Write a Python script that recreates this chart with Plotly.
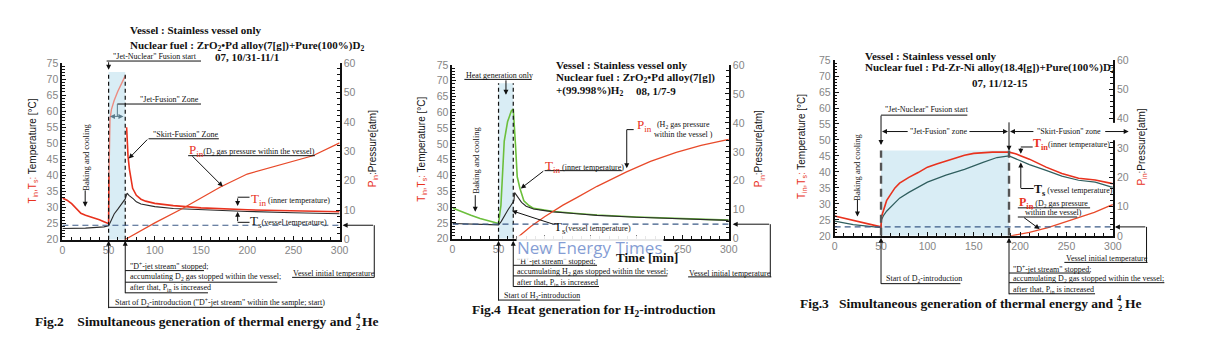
import plotly.graph_objects as go

# ---------------- measured series ----------------
# Fig.2  ZrO2·Pd alloy (7 g) + pure D2   (07, 10/31-11/1)
fig2_tin_time = [0, 5, 10, 14, 17, 20, 25, 32, 40, 45, 50, 50.4, None,
                 69.5, 70, 71, 72.5, 74, 76, 80, 85, 90, 100, 120, 150, 200, 250, 300]
fig2_tin = [33.0, 32.3, 31.2, 30.0, 28.8, 28.2, 27.6, 27.0, 26.2, 25.6, 25.0, 40.0, None,
            55.0, 50.0, 46.0, 42.0, 39.0, 36.0, 33.8, 32.6, 32.0, 31.3, 30.6, 29.9, 29.3, 29.0, 28.7]
fig2_jet_time = [50.4, 50.8, 51.5, 53, 56, 60, 64, 68]
fig2_jet_tin = [40.0, 50.0, 57.5, 60.5, 63.3, 66.2, 68.8, 71.0]
fig2_ts_time = [0, 25, 45, 50, 52, 56, 60, 64, 68, 70, 72, 76.8, 80, 85, 90, 100, 120, 150, 200, 250, 300]
fig2_ts = [23.5, 23.6, 24.0, 24.3, 25.5, 28.0, 29.5, 31.0, 32.7, 34.5, 33.8, 32.7, 31.8, 31.1,
           30.8, 30.3, 29.7, 29.3, 28.8, 28.4, 28.1]
fig2_pin_time = [67.5, 80, 100, 130, 171, 200, 240, 271, 300]
fig2_pin = [0, 2.2, 5.7, 10.6, 17.9, 22.3, 25.8, 28.5, 32.9]
fig2_zone = [50, 68]
fig2_zone_top = 72.2
fig2_initial_temp = 24.5

# Fig.4  ZrO2·Pd alloy (7 g) + 99.998 % H2   (08, 1/7-9)
fig4_tin_time = [0, 10, 20, 30, 40, 50, 52.6, 54.4, 56.2, 59.8, 64, 66, 67.5, 68.5, 70.3, 73.2,
                 77.5, 83, 88, 100, 110, 135, 157, 200, 250, 300]
fig4_tin = [29.7, 28.5, 27.4, 26.4, 25.5, 24.8, 30.5, 42.7, 50.9, 57.0, 60.5, 61.0, 54.9, 49.3,
            39.6, 36.0, 32.0, 30.5, 29.6, 29.0, 28.6, 28.0, 27.5, 26.9, 26.3, 25.9]
fig4_ts_time = [0, 25, 50, 53, 56, 60, 63.4, 66.7, 67.5, 70, 75, 80, 88, 100, 110, 135, 157, 200, 250, 300]
fig4_ts = [24.8, 24.6, 24.4, 25.5, 27.2, 29.0, 30.5, 32.0, 34.6, 33.5, 31.5, 30.3, 29.4, 28.9,
           28.5, 27.9, 27.4, 26.8, 26.2, 25.8]
fig4_pin_time = [69, 85, 100, 120, 135, 157, 189, 215, 243, 270, 300]
fig4_pin = [0, 4.2, 7.6, 11.6, 14.2, 18.1, 23.1, 26.7, 29.8, 32.2, 34.3]
fig4_zone = [50, 66]
fig4_zone_top = 69.2
fig4_initial_temp = 24.6

# Fig.3  Pd-Zr-Ni alloy (18.4 g) + pure D2   (07, 11/12-15)
fig3_tin_time = [0, 10, 20, 30, 40, 50, 50.5, 53, 56, 60, 65, 70, 80, 90, 100, 110, 120, 130, 140,
                 150, 160, 170, 188, 195, 201, 210, 228, 245, 263, 281, 297, 300]
fig3_tin = [26.2, 25.5, 24.8, 24.1, 23.4, 22.8, 26.0, 28.5, 31.0, 32.8, 35.0, 36.5, 38.3, 39.8,
            41.5, 42.5, 43.4, 44.2, 45.2, 45.8, 46.1, 46.2, 46.2, 45.7, 45.0, 44.0, 41.5, 39.5,
            38.0, 37.5, 36.5, 36.3]
fig3_ts_time = [0, 10, 20, 30, 40, 50, 50.5, 53, 56, 60, 70, 80, 90, 100, 120, 140, 160, 175, 188,
                200, 210, 228, 245, 263, 281, 297, 300]
fig3_ts = [24.6, 24.0, 23.5, 23.2, 22.9, 22.6, 25.0, 26.5, 27.7, 28.9, 31.8, 33.6, 35.2, 36.8,
           39.0, 40.8, 43.0, 44.5, 45.0, 43.5, 42.3, 40.5, 38.7, 37.4, 36.8, 35.4, 35.2]
fig3_pin_time = [190, 210, 230, 245, 260, 280, 297, 300]
fig3_pin = [0, 1.2, 2.8, 4.3, 5.8, 8.0, 10.3, 10.7]
fig3_zone = [50, 188]
fig3_zone_top = 46.7
fig3_initial_temp = 22.8

TIME_RANGE = [0, 300]
TEMP_RANGE = [20, 75]
PRES_RANGE = [0, 60]

# ---------------- page geometry ----------------
W, H = 1209, 350
# plot frame of each panel in page pixels: time 0 / 300, temperature 75 / 20
FRAMES = {
    "fig2": dict(x0=60, x1=340, top=59, bot=242, xa="x", yt="y", yp="y2"),
    "fig4": dict(x0=454, x1=733, top=61, bot=241, xa="x2", yt="y3", yp="y4"),
    "fig3": dict(x0=840, x1=1121, top=56, bot=238, xa="x3", yt="y5", yp="y6"),
}

RED = "#e8321e"
PINK = "#ec8b80"
GREEN = "#6cbf3c"
DARK = "#2b2b2b"
TEAL = "#2f5e5e"
PRES = "#e84a2a"
NAVY = "#3b5a86"
ZONE = "#d9edf5"
INK = "#111111"
SERIF = "Liberation Serif, Times New Roman, serif"
SANS = "Liberation Sans, Arial, sans-serif"


def fx(p):
    return p / W


def fy(p):
    return 1 - p / H


def tpx(panel, minutes):
    f = FRAMES[panel]
    return f["x0"] + (minutes - TIME_RANGE[0]) / (TIME_RANGE[1] - TIME_RANGE[0]) * (f["x1"] - f["x0"])


def temp_py(panel, temp):
    f = FRAMES[panel]
    return f["bot"] - (temp - TEMP_RANGE[0]) / (TEMP_RANGE[1] - TEMP_RANGE[0]) * (f["bot"] - f["top"])


shapes, annotations = [], []


def seg(x0, y0, x1, y1, color=INK, width=1, dash=None):
    shapes.append(dict(type="line", xref="paper", yref="paper", x0=fx(x0), y0=fy(y0),
                       x1=fx(x1), y1=fy(y1), layer="above",
                       line=dict(color=color, width=width, dash=dash)))


def arrow(hx, hy, sx, sy, color=INK, width=1, both=False):
    annotations.append(dict(x=fx(hx), y=fy(hy), xref="paper", yref="paper",
                            ax=sx - hx, ay=sy - hy, axref="pixel", ayref="pixel",
                            text="", showarrow=True, arrowhead=2, arrowsize=1,
                            arrowwidth=width, arrowcolor=color, standoff=0, startstandoff=0,
                            arrowside="end+start" if both else "end", startarrowhead=2))


def note(text, x, y, size=8, xanchor="left", color=INK, family=SERIF, angle=0, bg=None):
    a = dict(text=text, x=fx(x), y=fy(y), xref="paper", yref="paper", xanchor=xanchor,
             yanchor="middle", showarrow=False, textangle=angle, borderpad=0,
             font=dict(family=family, size=size, color=color))
    if bg:
        a["bgcolor"] = bg
    annotations.append(a)


fig = go.Figure()


def add_line(panel, t, v, color, width, pressure=False):
    f = FRAMES[panel]
    fig.add_trace(go.Scatter(x=t, y=v, mode="lines", xaxis=f["xa"],
                             yaxis=f["yp"] if pressure else f["yt"],
                             line=dict(color=color, width=width), hoverinfo="skip",
                             connectgaps=False))


def zone_marks(panel, zone, top, initial, dash_color, dash_width, dash):
    f = FRAMES[panel]
    xr, yr = f["xa"], f["yt"]
    shapes.append(dict(type="rect", xref=xr, yref=yr, x0=zone[0], x1=zone[1],
                       y0=TEMP_RANGE[0], y1=top, fillcolor=ZONE, line=dict(width=0), layer="below"))
    for t in zone:
        shapes.append(dict(type="line", xref=xr, yref=yr, x0=t, x1=t, y0=TEMP_RANGE[0], y1=top,
                           line=dict(color=dash_color, width=dash_width, dash=dash), layer="above"))
    shapes.append(dict(type="line", xref=xr, yref=yr, x0=TIME_RANGE[0], x1=TIME_RANGE[1],
                       y0=initial, y1=initial, line=dict(color=NAVY, width=1.2, dash="6px,4px"),
                       layer="above"))


# ---------------- Fig.2 ----------------
zone_marks("fig2", fig2_zone, fig2_zone_top, fig2_initial_temp, INK, 1.2, "4px,3px")
add_line("fig2", fig2_ts_time, fig2_ts, DARK, 1.1)
add_line("fig2", fig2_jet_time, fig2_jet_tin, PINK, 1.4)
add_line("fig2", fig2_tin_time, fig2_tin, RED, 1.6)
add_line("fig2", fig2_pin_time, fig2_pin, PRES, 1.3, pressure=True)

# ---------------- Fig.4 ----------------
zone_marks("fig4", fig4_zone, fig4_zone_top, fig4_initial_temp, INK, 1.2, "4px,3px")
add_line("fig4", fig4_tin_time, fig4_tin, GREEN, 1.6)
add_line("fig4", fig4_ts_time, fig4_ts, DARK, 1.1)
add_line("fig4", fig4_pin_time, fig4_pin, PRES, 1.3, pressure=True)

# ---------------- Fig.3 ----------------
zone_marks("fig3", fig3_zone, fig3_zone_top, fig3_initial_temp, "#555555", 2.4, "8px,5px")
add_line("fig3", fig3_ts_time, fig3_ts, TEAL, 1.2)
add_line("fig3", fig3_tin_time, fig3_tin, RED, 1.6)
add_line("fig3", fig3_pin_time, fig3_pin, PRES, 1.3, pressure=True)

# ---------------- axes ----------------
tickfont = dict(family=SANS, size=10.5, color="#858585")
layout_axes = {}
for i, (name, f) in enumerate(FRAMES.items()):
    xdom = [f["x0"] / W, f["x1"] / W]
    ydom = [1 - f["bot"] / H, 1 - f["top"] / H]
    xkey = "xaxis" if i == 0 else f"xaxis{i + 1}"
    tkey = "yaxis" if i == 0 else f"yaxis{2 * i + 1}"
    pkey = f"yaxis{2 * i + 2}"
    common = dict(showline=True, linecolor=INK, linewidth=2, ticks="inside", tickcolor=INK,
                  tickwidth=1, ticklen=4, showgrid=False, zeroline=False, tickfont=tickfont,
                  fixedrange=True)
    layout_axes[xkey] = dict(domain=xdom, anchor=f["yt"], range=TIME_RANGE, tick0=0, dtick=50,
                             minor=dict(dtick=10, ticks="inside", ticklen=3, tickcolor=INK), **common)
    layout_axes[tkey] = dict(domain=ydom, anchor=f["xa"], range=TEMP_RANGE, tick0=20, dtick=5,
                             minor=dict(dtick=1, ticks="inside", ticklen=2.5, tickcolor=INK), **common)
    layout_axes[pkey] = dict(overlaying=f["yt"], side="right", anchor=f["xa"], range=PRES_RANGE,
                             tick0=0, dtick=10,
                             minor=dict(dtick=2, ticks="inside", ticklen=2.5, tickcolor=INK), **common)

# ---------------- texts: Fig.2 ----------------
red = lambda s, size=13: f'<span style="color:{RED};font-size:{size}px">{s}</span>'
x2s, x2e = tpx("fig2", fig2_zone[0]), tpx("fig2", fig2_zone[1])
note("<b>Vessel : Stainless vessel only</b>", 127, 25, 11)
note("<b>Nuclear fuel : ZrO<sub>2</sub>•Pd alloy(7[g])+Pure(100%)D<sub>2</sub></b>", 127, 41, 11)
note("<b>07, 10/31-11/1</b>", 213, 53, 11)
note('"Jet-Nuclear" Fusion start', 110, 52, 8)
seg(x2s - 2, 57, 200, 57)
arrow(x2s, 66, x2s, 57)
note('"Jet-Fusion" Zone', 137, 97, 8)
seg(115.5, 101.5, 200, 101.5)
seg(115.5, 101.5, 115.5, 114.3, color="#5a7a8a")
arrow(108, 114.3, 123, 114.3, color="#5a7a8a", both=True)
note('"Skirt-Fusion" Zone', 150, 133, 8)
seg(147, 137.5, 218, 137.5)
arrow(127, 158, 147, 137.5)
note(red("P<sub>in</sub>") + "(D<sub>2</sub> gas pressure within the vessel)", 187, 150, 8)
seg(187, 155, 315, 155)
arrow(222, 187, 190, 155)
note("Baking and cooling", 83, 157, 8.5, xanchor="center", angle=-90)
arrow(83, 208, 83, 190)
note(red("T<sub>in</sub>") + " (inner temperature)", 249, 200, 8)
seg(237, 198, 249, 198)
seg(237, 224, 249, 224)
arrow(237, 207, 237, 198)
arrow(237, 213, 237, 224)
note('<span style="font-size:13px">T<sub>s</sub></span>(vessel temperature)', 248, 223, 8)
y2i = temp_py("fig2", fig2_initial_temp)
note("Vessel initial temperature", 292, 277, 8)
seg(292, 281, 375, 281)
seg(375, 281, 375, y2i)
arrow(343, y2i, 375, y2i)
note('"D<sup>+</sup>-jet stream" stopped;', x2e + 4, 269, 8)
seg(x2e, 274, 203, 274)
note("accumulating D<sub>2</sub> gas stopped within the vessel;", x2e + 4, 281, 8)
seg(x2e, 286, 277, 286)
note("after that, P<sub>in</sub> is increased", x2e + 4, 292, 8)
seg(x2e, 297, 207, 297)
arrow(x2e, 243, x2e, 297)
note('Start of D<sub>2</sub>-introduction ("D<sup>+</sup>-jet stream" within the sample; start)',
     x2s + 5, 307, 8)
seg(x2s, 312, 323, 312)
arrow(x2s, 243, x2s, 312)
note("<b>Fig.2\u00a0\u00a0\u00a0\u00a0Simultaneous generation of thermal energy and</b>", 354, 327, 13.5,
     xanchor="right")
note("<b>He</b>", 362, 327, 13.5)
note("<b>4</b>", 359, 321, 8.5, xanchor="center")
note("<b>2</b>", 359, 332, 8.5, xanchor="center")
note(f'<span style="color:{RED}">T<sub>in</sub>,T<sub>s</sub>:</span> Temperature [°C]', 30, 150, 10,
     xanchor="center", family=SANS, angle=-90)
note(f'<span style="color:{RED}">P<sub>in</sub></span>:Pressure[atm]', 374, 148, 10,
     xanchor="center", family=SANS, angle=-90)

# ---------------- texts: Fig.4 ----------------
x4s, x4e = tpx("fig4", fig4_zone[0]), tpx("fig4", fig4_zone[1])
note("<b>Vessel : Stainless vessel only</b>", 558, 61, 11)
note("<b>Nuclear fuel : ZrO<sub>2</sub>•Pd alloy(7[g])</b>", 558, 75, 11)
note("<b>+(99.998%)H<sub>2</sub></b>", 558, 88, 11)
note("<b>08, 1/7-9</b>", 638, 88, 11)
note("Heat generation only", 467, 71.5, 8)
seg(466, 76, 534, 76)
arrow(508, 92, 508, 76)
note("Baking and cooling", 477, 160, 8.5, xanchor="center", angle=-90)
arrow(477, 213, 477, 195)
note(red("T<sub>in</sub>") + " (inner temperature)", 546, 166, 8)
seg(547, 170.5, 625, 170.5)
arrow(523, 189, 547, 170.5)
note('<span style="font-size:13px">T<sub>s</sub></span>(vessel temperature)', 556, 229, 8)
arrow(514, 212, 557, 226)
note(red("P<sub>in</sub>"), 639, 124, 8)
note("(H<sub>2</sub> gas pressure<br>within the vessel )", 657, 128, 8)
seg(637, 128, 630, 128)
arrow(630, 168, 630, 128)
y4i = temp_py("fig4", fig4_initial_temp)
note("Vessel initial temperature", 692, 276.5, 8)
seg(692, 280.5, 776, 280.5)
seg(775, 280.5, 775, y4i)
arrow(737, y4i, 775, y4i)
note('"H<sup>+</sup>-jet stream" stopped;', x4e + 3, 264, 8)
seg(x4e, 268.5, 600, 268.5)
note("accumulating H<sub>2</sub> gas stopped within the vessel;", x4e + 3, 275.5, 8)
seg(x4e, 279.5, 671, 279.5)
note("after that, P<sub>in</sub> is increased", x4e + 3, 286.5, 8)
seg(x4e, 290.5, 602, 290.5)
arrow(x4e, 243, x4e, 290.5)
note("Start of H<sub>2</sub>-introduction", x4s + 5, 300.5, 8)
seg(x4s, 304.5, 583, 304.5)
arrow(x4s, 243, x4s, 304.5)
note("New Energy Times", 593, 250, 17, xanchor="center", color="rgba(110,140,205,0.85)",
     family="Open Sans", bg="rgba(255,255,255,0.9)")
note("<b>Time [min]</b>", 650, 260, 13, xanchor="center")
note("<b>Fig.4\u00a0\u00a0Heat generation for H<sub>2</sub>-introduction</b>", 597, 315, 13.5,
     xanchor="center")
note(f'<span style="color:{RED}">T<sub>in</sub>,T<sub>s</sub>:</span> Temperature [°C]', 423, 148, 10,
     xanchor="center", family=SANS, angle=-90)
note(f'<span style="color:{RED}">P<sub>in</sub></span>:Pressure[atm]', 764, 148, 10,
     xanchor="center", family=SANS, angle=-90)

# ---------------- texts: Fig.3 ----------------
x3s, x3e = tpx("fig3", fig3_zone[0]), tpx("fig3", fig3_zone[1])
note("<b>Vessel : Stainless vessel only</b>", 870, 52, 11)
note("<b>Nuclear fuel : Pd-Zr-Ni alloy(18.4[g])+Pure(100%)D<sub>2</sub></b>", 870, 64, 11)
note("<b>07, 11/12-15</b>", 1007, 80, 11, xanchor="center")
note('"Jet-Nuclear" Fusion start', 890, 107.5, 8)
seg(x3s, 113, 974, 113)
arrow(x3s, 144, x3s, 113)
note('"Jet-Fusion" zone', 945, 130, 8, xanchor="center")
arrow(x3s + 1, 130, 915, 130)
arrow(x3e - 1, 130, 975, 130)
note('"Skirt-Fusion" zone', 1077, 129.5, 8, xanchor="center")
arrow(x3e + 1, 130, 1042, 130)
arrow(1137, 130, 1112, 130)
arrow(x3e, 150, x3e, 120)
# gap in the right-hand axis where the zone arrow crosses it
shapes.append(dict(type="rect", xref="paper", yref="paper", x0=fx(1117), x1=fx(1128),
                   y0=fy(139), y1=fy(121), fillcolor="white", line=dict(width=0), layer="above"))
note("<b>" + red("T<sub>in</sub>", 12) + "</b>(inner temperature)", 1039, 143, 8)
seg(1028, 146, 1040, 146)
arrow(1028, 153, 1028, 146)
note('<b><span style="font-size:12px">T<sub>s</sub></span></b>\u00a0(vessel temperature)', 1040, 191, 8)
seg(1028, 189, 1041, 189)
arrow(1028, 162, 1028, 189)
note("<b>" + red("P<sub>in</sub>", 12) + "</b> (D<sub>2</sub> gas pressure", 1025, 204, 8)
seg(1025, 209, 1098, 209)
note("within the vessel)", 1031, 214, 8)
seg(1025, 218.5, 1085, 218.5)
arrow(1047, 231, 1030, 218.5)
y3i = temp_py("fig3", fig3_initial_temp)
note("Vessel initial temperature", 1073, 261.5, 8)
seg(1072, 265.5, 1156, 265.5)
seg(1155, 265.5, 1155, y3i)
arrow(1123, y3i, 1155, y3i)
note("Baking and cooling", 863, 167, 8.5, xanchor="center", angle=-90)
arrow(863, 218, 863, 200)
note("Start of D<sub>2</sub>-introduction", x3s + 4, 283, 8)
seg(x3s, 287.5, 967, 287.5)
arrow(x3s, 240, x3s, 287.5)
note('"D<sup>+</sup>-jet stream" stopped;', x3e + 3, 272, 8)
seg(x3e, 276.5, 1098, 276.5)
note("accumulating D<sub>2</sub> gas stopped within the vessel;", x3e + 3, 282.5, 8)
seg(x3e, 286.5, 1173, 286.5)
note("after that, P<sub>in</sub> is increased", x3e + 3, 294, 8)
seg(x3e, 298, 1103, 298)
arrow(x3e, 240, x3e, 298)
note("<b>Fig.3\u00a0\u00a0\u00a0Simultaneous generation of thermal energy and</b>", 1123, 308, 13.5,
     xanchor="right")
note("<b>He</b>", 1132, 308, 13.5)
note("<b>4</b>", 1128, 302, 8.5, xanchor="center")
note("<b>2</b>", 1128, 313, 8.5, xanchor="center")
note(f'<span style="color:{RED}">T<sub>in</sub>,T<sub>s</sub>:</span> Temperature [°C]', 807, 145, 10,
     xanchor="center", family=SANS, angle=-90)
note(f'<span style="color:{RED}">P<sub>in</sub></span>:Pressure[atm]', 1150, 146, 10,
     xanchor="center", family=SANS, angle=-90)

fig.update_layout(
    width=W, height=H, margin=dict(l=0, r=0, t=0, b=0),
    paper_bgcolor="white", plot_bgcolor="white", showlegend=False,
    shapes=shapes, annotations=annotations, **layout_axes,
)

fig.write_html("out.html")
